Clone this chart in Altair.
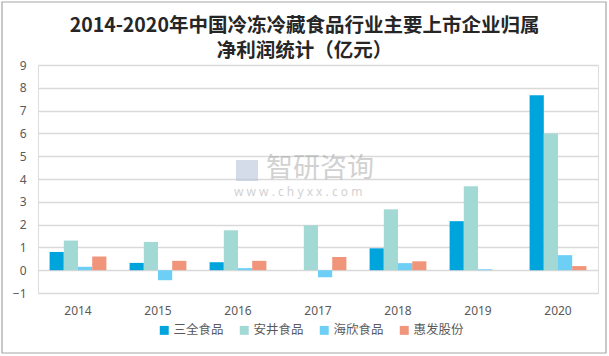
import altair as alt
import pandas as pd

years = ["2014", "2015", "2016", "2017", "2018", "2019", "2020"]
companies = ["三全食品", "安井食品", "海欣食品", "惠发股份"]
sanquan = [0.80, 0.32, 0.35, 0.0, 0.96, 2.15, 7.67]
anjing = [1.30, 1.24, 1.75, 1.97, 2.67, 3.68, 6.00]
haixin = [0.15, -0.44, 0.09, -0.31, 0.31, 0.04, 0.66]
huifa = [0.60, 0.41, 0.41, 0.58, 0.39, 0.0, 0.18]
colors = ["#00A4DC", "#A3D9D5", "#6DCFF6", "#F0947A"]
title_lines = ["2014-2020年中国冷冻冷藏食品行业主要上市企业归属", "净利润统计（亿元）"]

series = [sanquan, anjing, haixin, huifa]
rows = []
for comp, vals in zip(companies, series):
    for y, v in zip(years, vals):
        rows.append({"year": y, "company": comp, "value": v})
df = pd.DataFrame(rows)

W, H = 560, 228
PL, PT = 38, 65

bars = alt.Chart(df).mark_bar().encode(
    x=alt.X("year:N", sort=years, title=None,
            scale=alt.Scale(paddingInner=0.29, paddingOuter=0.145),
            axis=alt.Axis(labelAngle=0, domain=False, ticks=False, labelPadding=12,
                          labelFontSize=12, labelColor="#595959", labelFont="Noto Sans")),
    xOffset=alt.XOffset("company:N", sort=companies, scale=alt.Scale(paddingInner=0, paddingOuter=0)),
    y=alt.Y("value:Q", title=None,
            scale=alt.Scale(domain=[-1, 9], nice=False),
            axis=alt.Axis(values=list(range(-1, 10)), domain=False, ticks=False, labelPadding=12,
                          labelFontSize=12, labelColor="#595959", labelFont="Noto Sans",
                          gridColor="#D9D9D9", gridWidth=1.3)),
    color=alt.Color("company:N", sort=companies,
                    scale=alt.Scale(domain=companies, range=colors),
                    legend=alt.Legend(title=None, orient="none", direction="horizontal",
                                      legendX=120, legendY=H + 31, symbolType="square",
                                      symbolSize=80, symbolStrokeWidth=0, symbolOpacity=1,
                                      labelFontSize=12.5, labelColor="#595959",
                                      labelFont="Noto Sans CJK SC", columnPadding=14, labelOffset=3)),
)

def title_line(text, ypix):
    return alt.Chart(pd.DataFrame({"t": [text]})).mark_text(
        fontSize=19.5, font="Noto Sans CJK SC", fontWeight="bold", color="#262626",
        align="center", baseline="middle"
    ).encode(text="t:N", x=alt.value(304.5 - PL), y=alt.value(ypix - PT))

t1 = title_line(title_lines[0], 26)
t2 = title_line(title_lines[1], 51)

wm1 = alt.Chart(pd.DataFrame({"t": ["智研咨询"]})).mark_text(
    fontSize=27, font="Noto Sans CJK SC", color="#9a9a9a", opacity=0.45, align="left", baseline="middle"
).encode(text="t:N", x=alt.value(266 - PL), y=alt.value(169 - PT))
wm2 = alt.Chart(pd.DataFrame({"t": ["w w w . c h y x x . c o m"]})).mark_text(
    fontSize=12, font="Noto Sans", color="#9a9a9a", opacity=0.45, align="left", baseline="middle"
).encode(text="t:N", x=alt.value(234 - PL), y=alt.value(192 - PT))
logo = alt.Chart(pd.DataFrame({"a": [0]})).mark_rect(color="#b8c4dc", opacity=0.6).encode(
    x=alt.value(236 - PL), x2=alt.value(258 - PL), y=alt.value(160 - PT), y2=alt.value(181 - PT))

frame = alt.Chart(pd.DataFrame({"a": [0]})).mark_rect(
    fill=None, stroke="#A6A6A6", strokeWidth=1.2
).encode(x=alt.value(2 - PL), x2=alt.value(606 - PL), y=alt.value(2 - PT), y2=alt.value(353 - PT))

chart = alt.layer(frame, logo, wm1, wm2, t1, t2, bars).properties(
    width=W, height=H,
    autosize=alt.AutoSizeParams(type="none"),
    padding={"left": PL, "top": PT, "right": 609 - PL - W, "bottom": 356 - PT - H},
).configure_view(stroke=None).configure(background="white")

chart.save("out.html", embed_options={"renderer": "svg", "actions": False})
